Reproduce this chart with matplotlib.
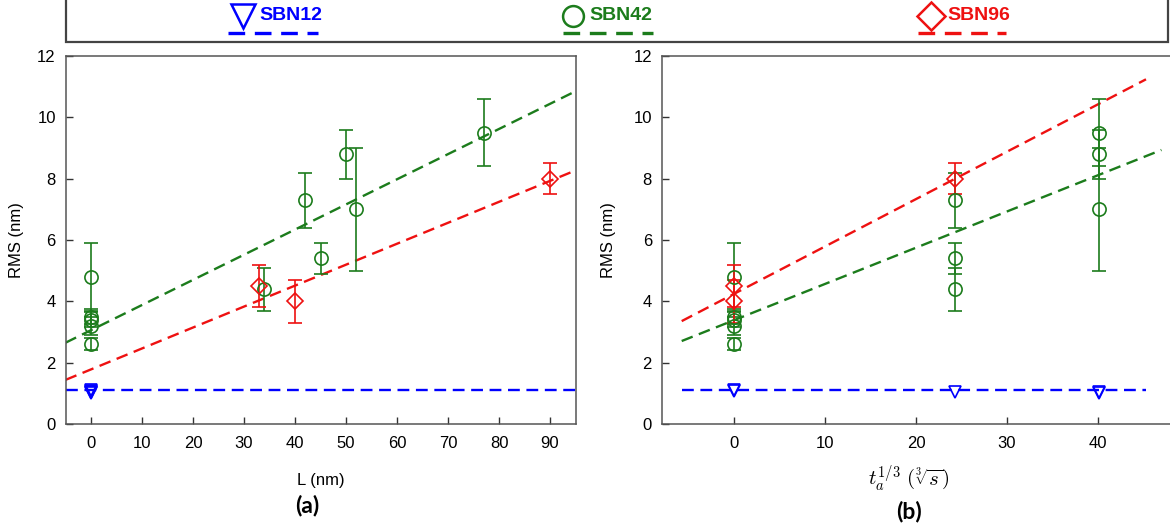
import numpy as np
import matplotlib
matplotlib.use("Agg")
import matplotlib.pyplot as plt

plt.rcParams['font.family'] = ['Liberation Sans', 'DejaVu Sans']
plt.rcParams['mathtext.fontset'] = 'cm'

# ---------------- data ----------------
series = ['SBN12', 'SBN42', 'SBN96']
colors = {'SBN12': '#0000ff', 'SBN42': '#1c7c1c', 'SBN96': '#ee1111'}
markers = {'SBN12': 'v', 'SBN42': 'o', 'SBN96': 'D'}

# panel (a): RMS vs L (nm)
L_sbn12 = [0, 0, 0, 0, 0]
L_sbn42 = [0, 0, 0, 0, 0, 34, 42, 45, 50, 52, 77]
L_sbn96 = [33, 40, 90]

# panel (b): RMS vs t_a^(1/3)
t_sbn12 = [0, 0, 24.3, 40.1, 40.1]
t_sbn42 = [0, 0, 0, 0, 0, 24.3, 24.3, 24.3, 40.1, 40.1, 40.1]
t_sbn96 = [0, 0, 24.3]

rms_sbn12 = [1.12, 1.06, 1.03, 1.00, 1.05]
rms_sbn42 = [4.8, 3.5, 3.4, 3.2, 2.6, 4.4, 7.3, 5.4, 8.8, 7.0, 9.5]
rms_sbn96 = [4.5, 4.0, 8.0]

err_sbn12 = [0, 0, 0, 0, 0]
err_sbn42 = [1.1, 0.25, 0.25, 0.3, 0.2, 0.7, 0.9, 0.5, 0.8, 2.0, 1.1]
err_sbn96 = [0.7, 0.7, 0.5]

fit_a = {'SBN12': (0.0, 1.1), 'SBN42': (0.082, 3.06), 'SBN96': (0.0683, 1.78)}
fit_a_range = {'SBN12': (-5, 95), 'SBN42': (-5, 95), 'SBN96': (-5, 95)}
fit_b = {'SBN12': (0.0, 1.1), 'SBN42': (0.118, 3.39), 'SBN96': (0.1543, 4.25)}
fit_b_range = {'SBN12': (-5.8, 45.3), 'SBN42': (-5.8, 47.0), 'SBN96': (-5.8, 45.3)}

xticks_a = [0, 10, 20, 30, 40, 50, 60, 70, 80, 90]
xticks_b = [0, 10, 20, 30, 40]
yticks = [0, 2, 4, 6, 8, 10, 12]

data_a = {'SBN12': (L_sbn12, rms_sbn12, err_sbn12),
          'SBN42': (L_sbn42, rms_sbn42, err_sbn42),
          'SBN96': (L_sbn96, rms_sbn96, err_sbn96)}
data_b = {'SBN12': (t_sbn12, rms_sbn12, err_sbn12),
          'SBN42': (t_sbn42, rms_sbn42, err_sbn42),
          'SBN96': (t_sbn96, rms_sbn96, err_sbn96)}

# ---------------- figure ----------------
W, H = 1170, 528
fig = plt.figure(figsize=(W / 100, H / 100), dpi=100)
ax1 = fig.add_axes([65.5 / W, (H - 424) / H, 510 / W, 368 / H])
ax2 = fig.add_axes([661.7 / W, (H - 424) / H, 527 / W, 368 / H])

msize = {'SBN12': 9, 'SBN42': 9.5, 'SBN96': 8.5}
dash = (5, 2.8)


def draw(ax, data, fits, ranges):
    for s in series:
        x, y, e = data[s]
        c = colors[s]
        slope, icpt = fits[s]
        x0, x1 = ranges[s]
        xs = np.array([x0, x1])
        ax.plot(xs, slope * xs + icpt, color=c, lw=1.7,
                linestyle=(0, dash), zorder=2)
        ee = np.array(e)
        if ee.any():
            ax.errorbar(x, y, yerr=ee, fmt='none', ecolor=c, elinewidth=1.2,
                        capsize=5, capthick=1.2, zorder=3)
        ax.plot(x, y, linestyle='none', marker=markers[s], ms=msize[s],
                mfc='none', mec=c, mew=1.2, zorder=4)


draw(ax1, data_a, fit_a, fit_a_range)
draw(ax2, data_b, fit_b, fit_b_range)

for ax in (ax1, ax2):
    ax.set_ylim(0, 12)
    ax.set_yticks(yticks)
    ax.tick_params(direction='in', length=5, width=1, colors='#333333',
                   labelcolor='black', labelsize=12, top=False, right=False)
    ax.tick_params(axis='x', pad=9)
    ax.tick_params(axis='y', pad=7)
    for sp in ax.spines.values():
        sp.set_color('#555555')
        sp.set_linewidth(1.1)
    ax.set_ylabel('RMS (nm)', fontsize=12)

ax1.set_xlim(-5, 95)
ax1.set_xticks(xticks_a)
ax1.set_xlabel('L (nm)', fontsize=12)
ax1.xaxis.set_label_coords(0.501, -0.133)
ax1.yaxis.set_label_coords(-0.082, 0.5)

ax2.set_xlim(-8, 50)
ax2.set_xticks(xticks_b)
ax2.set_xlabel(r'$t_a^{1/3}\ (\sqrt[3]{s})$', fontsize=15)
ax2.xaxis.set_label_coords(0.469, -0.108)
ax2.yaxis.set_label_coords(-0.086, 0.5)

fig.text(307 / W, 1 - 505 / H, '(a)', fontsize=16.5, fontweight='bold',
         family=['Lato', 'DejaVu Sans'], ha='center', va='center')
fig.text(909 / W, 1 - 511 / H, '(b)', fontsize=16.5, fontweight='bold',
         family=['Lato', 'DejaVu Sans'], ha='center', va='center')

# ---------------- legend box ----------------
lg = fig.add_axes([0, 0, 1, 1], zorder=10)
lg.set_xlim(0, W)
lg.set_ylim(H, 0)
lg.axis('off')
lg.add_patch(plt.Rectangle((66, -10), 1102, 52, fill=False,
                           edgecolor='#444444', lw=1.6))
leg_pos = {'SBN12': (243, 259, 228, 318),
           'SBN42': (573, 589, 563, 653),
           'SBN96': (931, 947, 918, 1006)}
leg_ms = {'SBN12': 17, 'SBN42': 15, 'SBN96': 14}
for s in series:
    mx, tx, l0, l1 = leg_pos[s]
    c = colors[s]
    lg.plot([mx], [16], marker=markers[s], ms=leg_ms[s], mfc='none',
            mec=c, mew=1.8)
    lg.text(tx, 16, s, color=c, fontsize=14, fontweight='bold',
            family=['Liberation Sans Narrow', 'Liberation Sans'],
            ha='left', va='center')
    lg.plot([l0, l1], [33, 33], color=c, lw=2.4, linestyle=(0, (5, 2.9)))

fig.savefig('out.png', dpi=100)
